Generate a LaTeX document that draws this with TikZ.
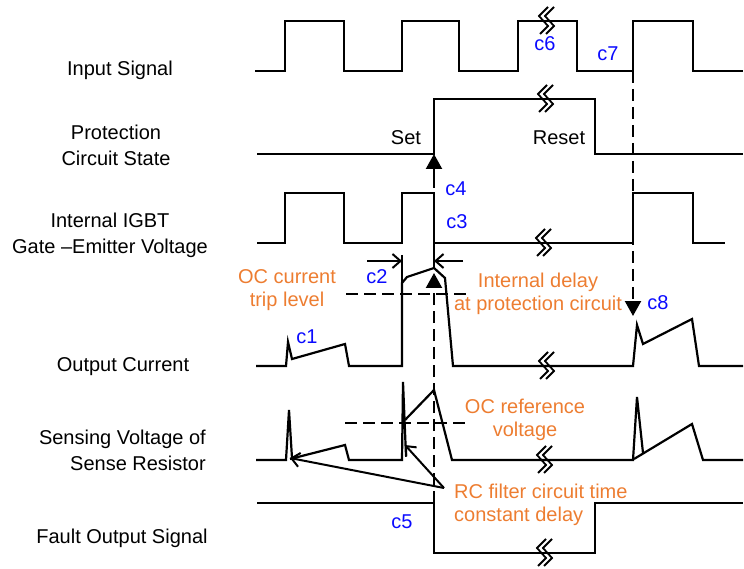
\documentclass[tikz,border=0pt]{standalone}
\usepackage{fontspec}
\setmainfont{Liberation Sans}
\usetikzlibrary{arrows.meta}
\definecolor{ocol}{RGB}{237,125,49}
\definecolor{bcol}{RGB}{10,10,255}
\begin{document}
\begin{tikzpicture}[x=1pt,y=-1pt,
  wave/.style={line width=2.2pt, line join=miter},
  dline/.style={line width=2.2pt, dash pattern=on 12pt off 6pt},
  lbl/.style={inner sep=0pt, align=center, font=\fontsize{20}{26}\selectfont},
  olbl/.style={inner sep=0pt, align=center, text=ocol, font=\fontsize{20}{23}\selectfont},
  clbl/.style={inner sep=0pt, text=bcol, font=\fontsize{20}{24}\selectfont},
  fillarrow/.style={-{Triangle[width=16pt,length=15pt]}},
  barb/.style={line width=2pt, -{Straight Barb[length=8pt,width=14pt]}},
  brk/.pic={
    \draw[line width=1.8pt] (3,-14) -- (-6,-5) -- (3,5) -- (-5,13);
    \draw[line width=1.8pt] (9,-14) -- (0,-5) -- (9,5) -- (1,13);
  }]
\useasboundingbox (0,0) rectangle (744,569);

% ---------- left labels ----------
\node[lbl] (lin) at (120,70) {Input Signal};
\node[lbl] (lprot) at (116,145) {Protection\\Circuit State};
\node[lbl] (lgate) at (110,235) {Internal IGBT\\Gate –Emitter Voltage};
\node[lbl] (lout) at (123,367) {Output Current};
\node[lbl, align=right, anchor=east] (lsense) at (206,450) {Sensing Voltage of\\Sense Resistor};
\node[lbl] (lfault) at (122,538) {Fault Output Signal};

% ---------- Input signal ----------
\draw[wave] (255,71) -- (285,71) -- (285,21) -- (344,21) -- (344,71) -- (402,71)
  -- (402,21) -- (459,21) -- (459,71) -- (518,71) -- (518,21) -- (577,21)
  -- (577,71) -- (633,71) -- (633,21) -- (693,21) -- (693,71) -- (743,71);
\pic at (545,21) {brk};

% ---------- Protection circuit state ----------
\draw[wave] (257,154) -- (434,154) -- (434,99) -- (595,99) -- (595,154) -- (743,154);
\pic at (544,99) {brk};

% ---------- Gate-emitter voltage ----------
\draw[wave] (257,243) -- (285,243) -- (285,193) -- (344,193) -- (344,243) -- (402,243)
  -- (402,193) -- (434,193) -- (434,243) -- (633,243) -- (633,193) -- (693,193)
  -- (693,243) -- (725,243);
\pic at (542,243) {brk};

% ---------- Output current ----------
\draw[wave] (256,366) -- (286,366) -- (288,342) -- (292,359) -- (345,344) -- (349,366)
  -- (402,366) -- (402,283) -- (407,277) -- (434,268) -- (445,278) -- (453,366)
  -- (633,366) -- (637,325) -- (643,344) -- (692,319) -- (699,366) -- (743,366);
\pic at (545,366) {brk};

% ---------- Sensing voltage ----------
\draw[wave] (256,460) -- (286,460) -- (289,410) -- (292,458);
\draw[wave] (290,459) -- (345,445) -- (349,460) -- (402,460) -- (403,382) -- (406,456);
\draw[wave] (405,420) -- (434,390) -- (452,460) -- (633,460) -- (637,397) -- (643,453);
\draw[wave] (634,459) -- (692,424) -- (703,460) -- (743,460);
\pic at (543,460) {brk};

% ---------- Fault output ----------
\draw[wave] (257,503) -- (434,503) -- (434,553) -- (595,553) -- (595,503) -- (743,503);
\pic at (543,553) {brk};

% ---------- threshold dashed lines ----------
\coordinate (trA) at (346,294);
\coordinate (trB) at (470,294);
\draw[dline] (trA) -- (trB);
\coordinate (rfA) at (345,423);
\coordinate (rfB) at (470,423);
\draw[dline] (rfA) -- (rfB);

% ---------- vertical arrows ----------
\coordinate (c4pt) at (434,188);
\coordinate (setpt) at (434,154);
\draw[line width=2.2pt, fillarrow] (c4pt) -- (setpt);

\coordinate (fltedge) at (434,503);
\coordinate (peak) at (434,273);
\draw[dline, fillarrow] (fltedge) -- (peak);

\coordinate (instep) at (633,71);
\coordinate (c8pt) at (633,316);
\draw[dline, fillarrow] (instep) -- (c8pt);

% ---------- c2 delay dimension ----------
\coordinate (extL1) at (402,255);
\coordinate (extL2) at (402,283);
\draw[wave] (extL1) -- (extL2);
\coordinate (extR1) at (434,243);
\coordinate (extR2) at (434,268);
\draw[wave] (extR1) -- (extR2);
\coordinate (dimLs) at (367,261);
\coordinate (dimLe) at (402,261);
\draw[barb] (dimLs) -- (dimLe);
\coordinate (dimRs) at (463,261);
\coordinate (dimRe) at (434,261);
\draw[barb] (dimRs) -- (dimRe);

% ---------- state labels ----------
\node[lbl] (set) at (406,138) {Set};
\node[lbl] (reset) at (559,138) {Reset};

% ---------- orange annotations ----------
\node[olbl] (trip) at (287,290) {OC current\\trip level};
\node[olbl] (delay) at (538,294) {Internal delay\\at protection circuit};
\node[olbl] (ref) at (525,420) {OC reference\\voltage};
\node[olbl, align=left, anchor=west] (rc) at (454,505) {RC filter circuit time\\constant delay};

% RC arrows
\coordinate (rcsrc) at (444,488);
\coordinate (sp1) at (290,458);
\coordinate (sp2) at (405,445);
\draw[barb] (rcsrc) -- (sp1);
\draw[barb] (rcsrc) -- (sp2);

% ---------- blue labels ----------
\node[clbl] (c1) at (307,337) {c1};
\node[clbl] (c2) at (377,277) {c2};
\node[clbl] (c3) at (457,222) {c3};
\node[clbl] (c4) at (456,189) {c4};
\node[clbl] (c5) at (402,522) {c5};
\node[clbl] (c6) at (545,44) {c6};
\node[clbl] (c7) at (608,54) {c7};
\node[clbl] (c8) at (658,303) {c8};
\end{tikzpicture}
\end{document}
